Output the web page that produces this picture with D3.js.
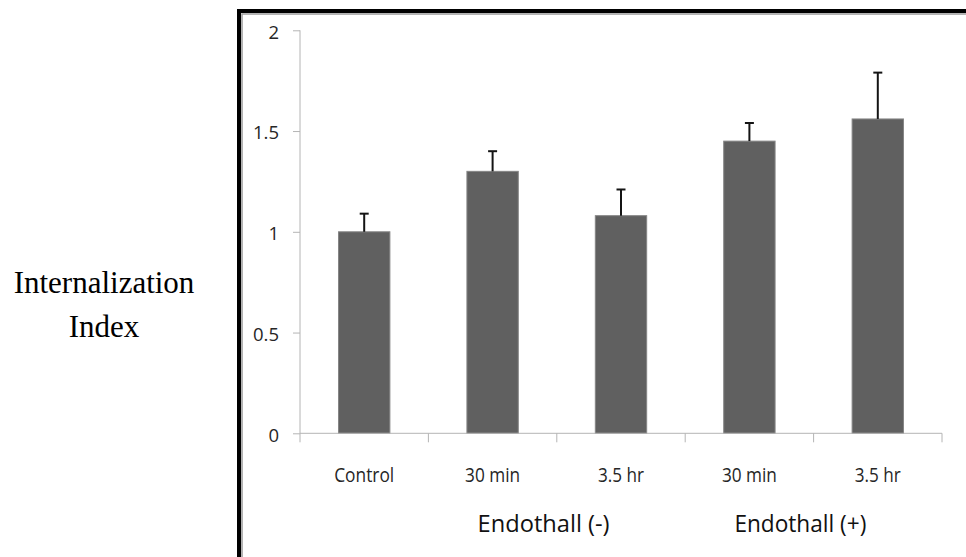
<!DOCTYPE html>
<html>
<head>
<meta charset="utf-8">
<script src="https://cdn.jsdelivr.net/npm/d3@7"></script>
<style>
  html, body { margin: 0; padding: 0; background: #fff; overflow: hidden; }
  svg { display: block; }
</style>
</head>
<body>
<script>
// Internalization index per treatment, with error bars
const categories = ["Control", "30 min", "3.5 hr", "30 min", "3.5 hr"];
const values = [1.00, 1.30, 1.08, 1.45, 1.56];
const errors = [0.09, 0.10, 0.13, 0.09, 0.23];
const yTicks = [0, 0.5, 1, 1.5, 2];
const groupLabels = ["Endothall (-)", "Endothall (+)"];
const groupStart = [1, 3];   // first category index under each group label
const yTitle = ["Internalization", "Index"];

const W = 966, H = 557;
const svg = d3.select("body").append("svg").attr("width", W).attr("height", H);

// Frame around the plot (runs past the right and bottom edges)
svg.append("rect").attr("x", 239).attr("y", 11).attr("width", 900).attr("height", 700)
  .attr("fill", "none").attr("stroke", "#000").attr("stroke-width", 4);
svg.append("rect").attr("x", 242).attr("y", 14).attr("width", 900).attr("height", 700)
  .attr("fill", "none").attr("stroke", "#9a9a9a").attr("stroke-width", 1.5);

const x = d3.scaleBand().domain(d3.range(categories.length))
  .range([300, 942]).paddingInner(0.6).paddingOuter(0.3);
const y = d3.scaleLinear().domain([0, 2]).range([433.3, 30.3]);

const sans = "'Open Sans', 'Noto Sans', sans-serif";
const axisGrey = "#b4b4b4";

// Y axis
const yAxis = svg.append("g").attr("transform", "translate(300,0)")
  .call(d3.axisLeft(y).tickValues(yTicks).tickSize(7).tickPadding(14).tickFormat(d => String(d)));
yAxis.select(".domain").attr("stroke", axisGrey).attr("d", `M0,${y(2)}V${y(0)}`);
yAxis.selectAll(".tick line").attr("stroke", axisGrey);
yAxis.selectAll(".tick text").attr("font-family", sans).attr("font-size", 18.5)
  .attr("fill", "#262626").attr("dy", "0.42em");

// Bars
svg.append("g").selectAll("rect").data(values).join("rect")
  .attr("x", (d, i) => x(i)).attr("width", x.bandwidth())
  .attr("y", d => y(d)).attr("height", d => y(0) - y(d))
  .attr("fill", "#606060").attr("stroke", "#858585").attr("stroke-width", 1);

// Error bars (upper only)
const eb = svg.append("g").attr("stroke", "#141414").attr("stroke-width", 2);
values.forEach((v, i) => {
  const cx = x(i) + x.bandwidth() / 2;
  eb.append("line").attr("x1", cx).attr("x2", cx).attr("y1", y(v)).attr("y2", y(v + errors[i]));
  eb.append("line").attr("x1", cx - 4.5).attr("x2", cx + 4.5)
    .attr("y1", y(v + errors[i])).attr("y2", y(v + errors[i]));
});

// X axis: baseline, category dividers and labels
const step = x.step();
const bounds = d3.range(categories.length + 1).map(i => x.range()[0] + i * step);
const xg = svg.append("g");
xg.append("line").attr("x1", bounds[0]).attr("x2", bounds[bounds.length - 1])
  .attr("y1", y(0)).attr("y2", y(0)).attr("stroke", axisGrey);
xg.selectAll("line.div").data(bounds).join("line").attr("class", "div")
  .attr("x1", d => d).attr("x2", d => d).attr("y1", y(0)).attr("y2", y(0) + 9)
  .attr("stroke", axisGrey);

const xAxis = svg.append("g").attr("transform", `translate(0,${y(0)})`)
  .call(d3.axisBottom(x).tickSize(0).tickPadding(0).tickFormat(i => categories[i]));
xAxis.select(".domain").remove();
const labelWidths = { "Control": 60, "30 min": 55, "3.5 hr": 46 };
xAxis.selectAll(".tick text").attr("font-family", sans).attr("font-size", 19.5)
  .attr("fill", "#262626").attr("dy", 0).attr("y", 49)
  .attr("textLength", (i) => labelWidths[categories[i]]).attr("lengthAdjust", "spacingAndGlyphs");

// Group labels
svg.append("g").selectAll("text").data(groupLabels).join("text")
  .attr("x", (d, k) => x(groupStart[k]) + x.bandwidth() / 2 - 15)
  .attr("y", 531.7)
  .attr("font-family", sans).attr("font-size", 23).attr("fill", "#111")
  .attr("textLength", 132).attr("lengthAdjust", "spacingAndGlyphs")
  .text(d => d);

// Y axis title
svg.append("text").attr("font-family", "'Liberation Serif', 'Times New Roman', serif")
  .attr("font-size", 31).attr("text-anchor", "middle").attr("fill", "#000")
  .selectAll("tspan").data(yTitle).join("tspan")
  .attr("x", 104).attr("y", (d, i) => 293.3 + i * 44).text(d => d);
</script>
</body>
</html>
